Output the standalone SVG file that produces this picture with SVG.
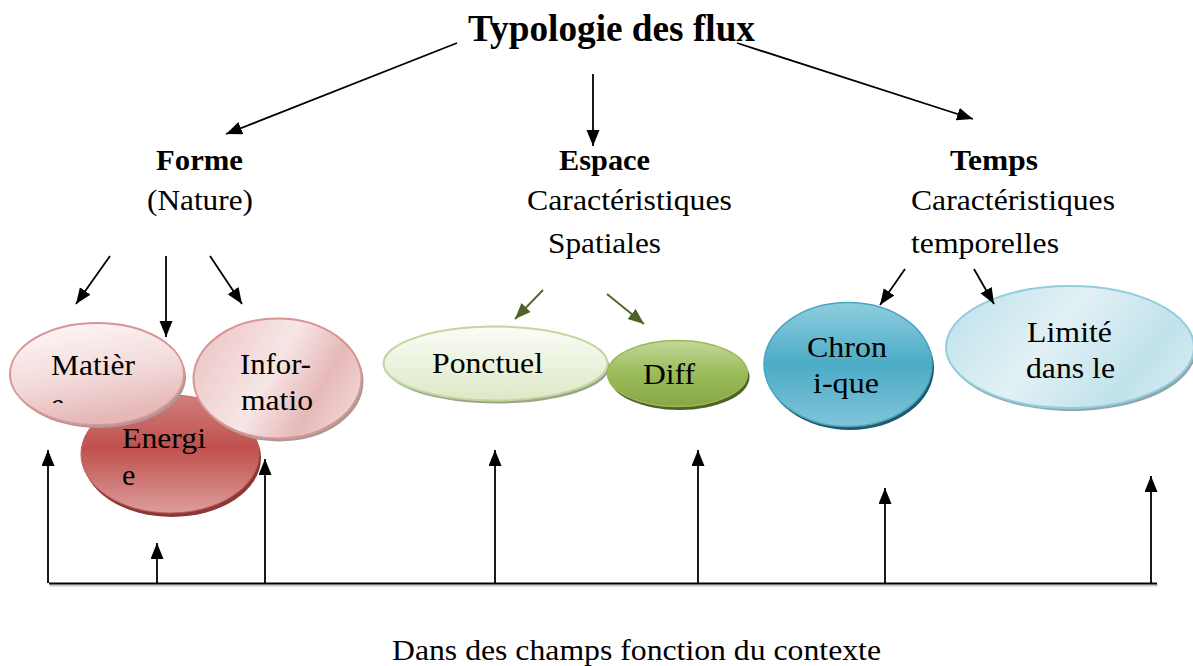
<svg xmlns="http://www.w3.org/2000/svg" width="1193" height="666" viewBox="0 0 1193 666">
<style>
.t{font-family:"Liberation Serif","Times New Roman",serif;fill:#000}
.r{font-size:29px}
.e{font-size:30px}
.b{font-size:29px;font-weight:bold}
.ti{font-size:37px;font-weight:bold}
.ln{stroke:#000;stroke-width:1.8;fill:none}
.gl{stroke:#4f6228;stroke-width:1.8;fill:none}
</style>
<defs>
<marker id="ah" markerUnits="userSpaceOnUse" markerWidth="17" markerHeight="14" refX="16" refY="6.5" orient="auto"><path d="M0,0 L16,6.5 L0,13 z" fill="#000"/></marker>
<marker id="ahg" markerUnits="userSpaceOnUse" markerWidth="17" markerHeight="14" refX="16" refY="6.5" orient="auto"><path d="M0,0 L16,6.5 L0,13 z" fill="#4f6228"/></marker>
<linearGradient id="gMat" x1="0" y1="0" x2="0.3" y2="1"><stop offset="0" stop-color="#fefafa"/><stop offset="0.6" stop-color="#f3dada"/><stop offset="1" stop-color="#e5b8b7"/></linearGradient>
<linearGradient id="gInf" x1="0" y1="0.3" x2="1" y2="0.7"><stop offset="0" stop-color="#ecc8c7"/><stop offset="0.45" stop-color="#f7e6e6"/><stop offset="0.75" stop-color="#e6b9b8"/><stop offset="1" stop-color="#f0d6d5"/></linearGradient>
<linearGradient id="gEn" x1="0" y1="0" x2="0" y2="1"><stop offset="0" stop-color="#d07f7d"/><stop offset="0.45" stop-color="#c0504d"/><stop offset="1" stop-color="#dc9d9b"/></linearGradient>
<linearGradient id="gPon" x1="0" y1="0" x2="0" y2="1"><stop offset="0" stop-color="#fbfdf7"/><stop offset="1" stop-color="#dce8c6"/></linearGradient>
<linearGradient id="gDif" x1="0" y1="0" x2="0" y2="1"><stop offset="0" stop-color="#c2d89a"/><stop offset="0.5" stop-color="#9bbb59"/><stop offset="1" stop-color="#87a648"/></linearGradient>
<linearGradient id="gChr" x1="0" y1="0" x2="0" y2="1"><stop offset="0" stop-color="#8fcde0"/><stop offset="0.5" stop-color="#4bacc6"/><stop offset="1" stop-color="#80c4d8"/></linearGradient>
<linearGradient id="gLim" x1="0" y1="0.3" x2="1" y2="0.7"><stop offset="0" stop-color="#c2e3ec"/><stop offset="0.4" stop-color="#e2f1f5"/><stop offset="0.8" stop-color="#c0e2eb"/><stop offset="1" stop-color="#d4ebf1"/></linearGradient>
<clipPath id="cMat"><rect x="0" y="300" width="200" height="103"/></clipPath>
</defs>

<text class="t ti" x="468" y="41" textLength="287" lengthAdjust="spacingAndGlyphs">Typologie des flux</text>

<g id="forme">
<text class="t b" x="156" y="170" textLength="87" lengthAdjust="spacingAndGlyphs">Forme</text>
<text class="t r" x="147" y="210" textLength="106" lengthAdjust="spacingAndGlyphs">(Nature)</text>
</g>
<g id="espace">
<text class="t b" x="559" y="170" textLength="91" lengthAdjust="spacingAndGlyphs">Espace</text>
<text class="t r" x="527" y="210" textLength="205" lengthAdjust="spacingAndGlyphs">Caractéristiques</text>
<text class="t r" x="548" y="253" textLength="113" lengthAdjust="spacingAndGlyphs">Spatiales</text>
</g>
<g id="temps">
<text class="t b" x="950" y="170" textLength="88" lengthAdjust="spacingAndGlyphs">Temps</text>
<text class="t r" x="911" y="210" textLength="204" lengthAdjust="spacingAndGlyphs">Caractéristiques</text>
<text class="t r" x="911" y="253" textLength="148" lengthAdjust="spacingAndGlyphs">temporelles</text>
</g>

<g id="energie">
<ellipse cx="172" cy="458" rx="89" ry="59" fill="#8c3836"/>
<ellipse cx="170" cy="454" rx="89" ry="59" fill="url(#gEn)" stroke="#c0605d" stroke-width="1"/>
<text class="t e" x="122" y="448" textLength="84" lengthAdjust="spacingAndGlyphs">Energi</text>
<text class="t e" x="122" y="485">e</text>
</g>
<g id="matiere">
<ellipse cx="99" cy="377" rx="87" ry="51" fill="#a89898"/>
<ellipse cx="97" cy="374" rx="87" ry="51" fill="url(#gMat)" stroke="#d99594" stroke-width="2"/>
<text class="t e" x="51" y="375" textLength="84" lengthAdjust="spacingAndGlyphs">Matièr</text>
<text class="t e" x="51" y="414" clip-path="url(#cMat)">e</text>
</g>
<g id="information">
<ellipse cx="279.5" cy="381.5" rx="84" ry="60" fill="#a89898"/>
<ellipse cx="277.5" cy="378.5" rx="84" ry="60" fill="url(#gInf)" stroke="#d99594" stroke-width="2"/>
<text class="t e" x="240" y="374" textLength="71" lengthAdjust="spacingAndGlyphs">Infor-</text>
<text class="t e" x="241" y="410" textLength="72" lengthAdjust="spacingAndGlyphs">matio</text>
</g>

<g id="ponctuel">
<ellipse cx="497.5" cy="366.5" rx="112" ry="37" fill="#9ba58a"/>
<ellipse cx="495.5" cy="363.5" rx="112" ry="37" fill="url(#gPon)" stroke="#c3d69b" stroke-width="2"/>
<text class="t e" x="432" y="373" textLength="111" lengthAdjust="spacingAndGlyphs">Ponctuel</text>
</g>
<g id="diff">
<ellipse cx="679.5" cy="377" rx="70" ry="33" fill="#4f6228"/>
<ellipse cx="677.5" cy="373.5" rx="70" ry="33" fill="url(#gDif)" stroke="#98b954" stroke-width="1.5"/>
<text class="t e" x="643" y="384" textLength="52" lengthAdjust="spacingAndGlyphs">Diff</text>
</g>

<g id="chronique">
<ellipse cx="850" cy="368" rx="84" ry="62" fill="#215968"/>
<ellipse cx="848" cy="364.5" rx="84" ry="62" fill="url(#gChr)" stroke="#4aa5bf" stroke-width="1.5"/>
<text class="t e" x="807" y="357" textLength="80" lengthAdjust="spacingAndGlyphs">Chron</text>
<text class="t e" x="813" y="393" textLength="66" lengthAdjust="spacingAndGlyphs">i-que</text>
</g>
<g id="limite">
<ellipse cx="1072" cy="350" rx="124" ry="61" fill="#8fa5ab"/>
<ellipse cx="1070" cy="347" rx="124" ry="61" fill="url(#gLim)" stroke="#93cddd" stroke-width="2"/>
<text class="t e" x="1027" y="342" textLength="85" lengthAdjust="spacingAndGlyphs">Limité</text>
<text class="t e" x="1026" y="378" textLength="89" lengthAdjust="spacingAndGlyphs">dans le</text>
</g>

<g id="connectors">
<line class="ln" x1="457" y1="43" x2="226" y2="134" marker-end="url(#ah)"/>
<line class="ln" x1="593" y1="74" x2="593" y2="146" marker-end="url(#ah)"/>
<line class="ln" x1="737" y1="43" x2="973" y2="119" marker-end="url(#ah)"/>
<line class="ln" x1="110" y1="256" x2="76" y2="304" marker-end="url(#ah)"/>
<line class="ln" x1="166" y1="256" x2="166" y2="337" marker-end="url(#ah)"/>
<line class="ln" x1="210" y1="256" x2="242" y2="304" marker-end="url(#ah)"/>
<line class="gl" x1="543" y1="290" x2="515" y2="319" marker-end="url(#ahg)"/>
<line class="gl" x1="607" y1="294" x2="644" y2="324" marker-end="url(#ahg)"/>
<line class="ln" x1="905" y1="269" x2="880" y2="305" marker-end="url(#ah)"/>
<line class="ln" x1="974" y1="269" x2="994" y2="304" marker-end="url(#ah)"/>
<line x1="50" y1="585.5" x2="1158" y2="585.5" stroke="#c8c8c8" stroke-width="2"/>
<line x1="49" y1="583.5" x2="1157" y2="583.5" stroke="#000" stroke-width="2"/>
<line class="ln" x1="48" y1="583" x2="48" y2="450" marker-end="url(#ah)"/>
<line class="ln" x1="157" y1="583" x2="157" y2="543" marker-end="url(#ah)"/>
<line class="ln" x1="265" y1="583" x2="265" y2="459" marker-end="url(#ah)"/>
<line class="ln" x1="495" y1="583" x2="495" y2="450" marker-end="url(#ah)"/>
<line class="ln" x1="698" y1="583" x2="698" y2="450" marker-end="url(#ah)"/>
<line class="ln" x1="885" y1="583" x2="885" y2="488" marker-end="url(#ah)"/>
<line class="ln" x1="1151" y1="583" x2="1151" y2="476" marker-end="url(#ah)"/>
</g>

<text class="t r" x="392" y="660" textLength="489" lengthAdjust="spacingAndGlyphs">Dans des champs fonction du contexte</text>
</svg>
